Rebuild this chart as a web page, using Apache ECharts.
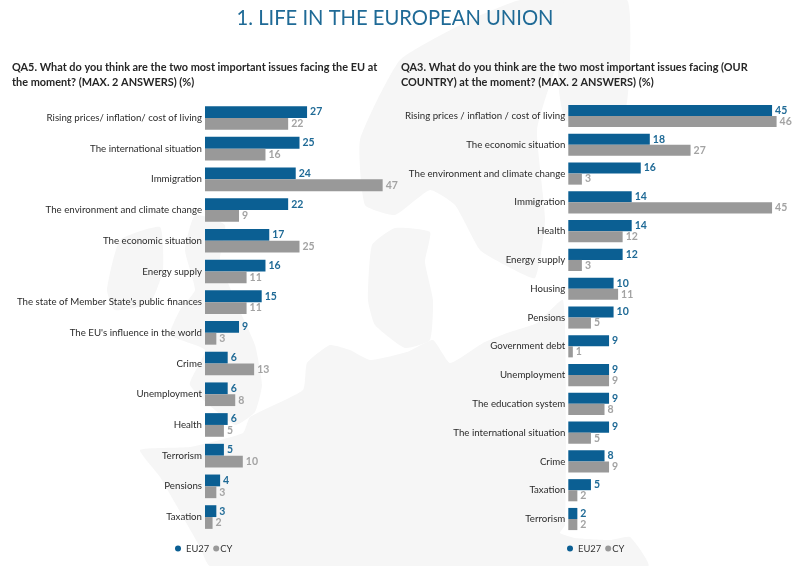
<!DOCTYPE html>
<html>
<head>
<meta charset="utf-8">
<style>
  html, body { margin: 0; padding: 0; background: #fff; }
  #main { width: 800px; height: 566px; }
</style>
<script src="https://cdn.jsdelivr.net/npm/echarts@6/dist/echarts.min.js"></script>
</head>
<body>
<div id="main"></div>
<script>
const leftCategories = ['Rising prices/ inflation/ cost of living', 'The international situation', 'Immigration',
  'The environment and climate change', 'The economic situation', 'Energy supply',
  "The state of Member State's public finances", "The EU's influence in the world", 'Crime', 'Unemployment',
  'Health', 'Terrorism', 'Pensions', 'Taxation'];
const leftEu27 = [27, 25, 24, 22, 17, 16, 15, 9, 6, 6, 6, 5, 4, 3];
const leftCy = [22, 16, 47, 9, 25, 11, 11, 3, 13, 8, 5, 10, 3, 2];

const rightCategories = ['Rising prices / inflation / cost of living', 'The economic situation',
  'The environment and climate change', 'Immigration', 'Health', 'Energy supply', 'Housing', 'Pensions',
  'Government debt', 'Unemployment', 'The education system', 'The international situation', 'Crime',
  'Taxation', 'Terrorism'];
const rightEu27 = [45, 18, 16, 14, 14, 12, 10, 10, 9, 9, 9, 9, 8, 5, 2];
const rightCy = [46, 27, 3, 45, 12, 3, 11, 5, 1, 9, 8, 5, 9, 2, 2];

const blue = '#0b5f93';
const grey = '#999999';
const font = 'Lato, sans-serif';

// faint map of Europe behind the charts, traced by eye
const mapShapes = [
  // Norway and Sweden
  [[590, 0], [520, 0], [470, 20], [400, 60], [360, 140], [365, 205], [395, 215], [430, 190], [455, 205], [480, 250], [505, 265], [535, 278], [545, 220], [537, 130], [555, 70], [575, 30]],
  // Finland
  [[565, 0], [627, 0], [630, 60], [625, 110], [590, 125], [565, 120], [558, 80]],
  // Denmark and south Sweden
  [[368, 300], [372, 245], [395, 228], [430, 232], [425, 262], [433, 300], [430, 340], [405, 348], [375, 325]],
  // Ireland
  [[107, 290], [120, 240], [160, 227], [163, 270], [150, 303], [115, 310]],
  // Britain
  [[195, 215], [225, 225], [220, 260], [235, 300], [255, 345], [262, 385], [255, 412], [235, 425], [190, 385], [205, 350], [170, 335], [180, 310], [195, 290], [185, 250]],
  // mainland
  [[307, 363], [330, 345], [350, 350], [370, 360], [407, 352], [433, 340], [450, 363], [483, 343], [507, 333], [537, 323], [563, 300], [566, 420], [565, 525], [560, 533], [575, 538], [610, 540], [630, 537], [648, 566], [210, 566], [200, 547], [160, 477], [140, 450], [190, 447], [243, 433], [250, 417], [303, 390]]
];

function barSeries(name, values, color, idx) {
  return {
    name: name,
    type: 'bar',
    xAxisIndex: idx,
    yAxisIndex: idx,
    data: values,
    barGap: 0,
    barCategoryGap: '23%',
    itemStyle: { color: color },
    silent: true,
    animation: false,
    label: {
      show: true,
      position: 'right',
      distance: 3,
      color: color === blue ? '#1f6a96' : '#a3a3a3',
      fontFamily: font,
      fontWeight: 'bold',
      fontSize: 10.5
    }
  };
}

function xAxis(idx, max) {
  return { type: 'value', gridIndex: idx, min: 0, max: max, show: false };
}

function yAxis(idx, cats) {
  return {
    type: 'category',
    gridIndex: idx,
    data: cats,
    inverse: true,
    axisLine: { show: false },
    axisTick: { show: false },
    axisLabel: { color: '#2b2b2b', fontFamily: font, fontSize: 9.7, margin: 3 }
  };
}

function legend(left) {
  return {
    left: left,
    top: 544,
    icon: 'circle',
    itemWidth: 6,
    itemHeight: 6,
    itemGap: 4,
    padding: 0,
    selectedMode: false,
    data: ['EU27', { name: 'CY', textStyle: { padding: [0, 0, 0, -4] } }],
    textStyle: { color: '#333', fontFamily: font, fontSize: 9.4 }
  };
}

function question(left, text) {
  return {
    text: text,
    left: left,
    top: 60,
    padding: 0,
    textStyle: { color: '#262626', fontFamily: font, fontWeight: 'bold', fontSize: 10.9, lineHeight: 15 }
  };
}

const chart = echarts.init(document.getElementById('main'), null, { renderer: 'canvas' });
chart.setOption({
  backgroundColor: '#ffffff',
  animation: false,
  graphic: mapShapes.map(function (points) {
    return {
      type: 'polygon',
      silent: true,
      z: -10,
      shape: { points: points, smooth: 0.15 },
      style: { fill: '#f6f6f6' }
    };
  }),
  title: [
    {
      text: '1. LIFE IN THE EUROPEAN UNION',
      left: 395,
      textAlign: 'center',
      top: 8,
      padding: 0,
      textStyle: { color: '#1f6a96', fontFamily: font, fontWeight: 'normal', fontSize: 20.2 }
    },
    question(12, 'QA5. What do you think are the two most important issues facing the EU at\nthe moment? (MAX. 2 ANSWERS) (%)'),
    question(401, 'QA3. What do you think are the two most important issues facing (OUR\nCOUNTRY) at the moment? (MAX. 2 ANSWERS) (%)')
  ],
  legend: [legend(175), legend(567)],
  grid: [
    { left: 205, top: 102.6, width: 189, height: 429.8, outerBoundsMode: 'none' },
    { left: 568.3, top: 101.6, width: 226.4, height: 431.8, outerBoundsMode: 'none' }
  ],
  xAxis: [xAxis(0, 50), xAxis(1, 50)],
  yAxis: [yAxis(0, leftCategories), yAxis(1, rightCategories)],
  series: [
    barSeries('EU27', leftEu27, blue, 0),
    barSeries('CY', leftCy, grey, 0),
    barSeries('EU27', rightEu27, blue, 1),
    barSeries('CY', rightCy, grey, 1)
  ]
});
</script>
</body>
</html>
